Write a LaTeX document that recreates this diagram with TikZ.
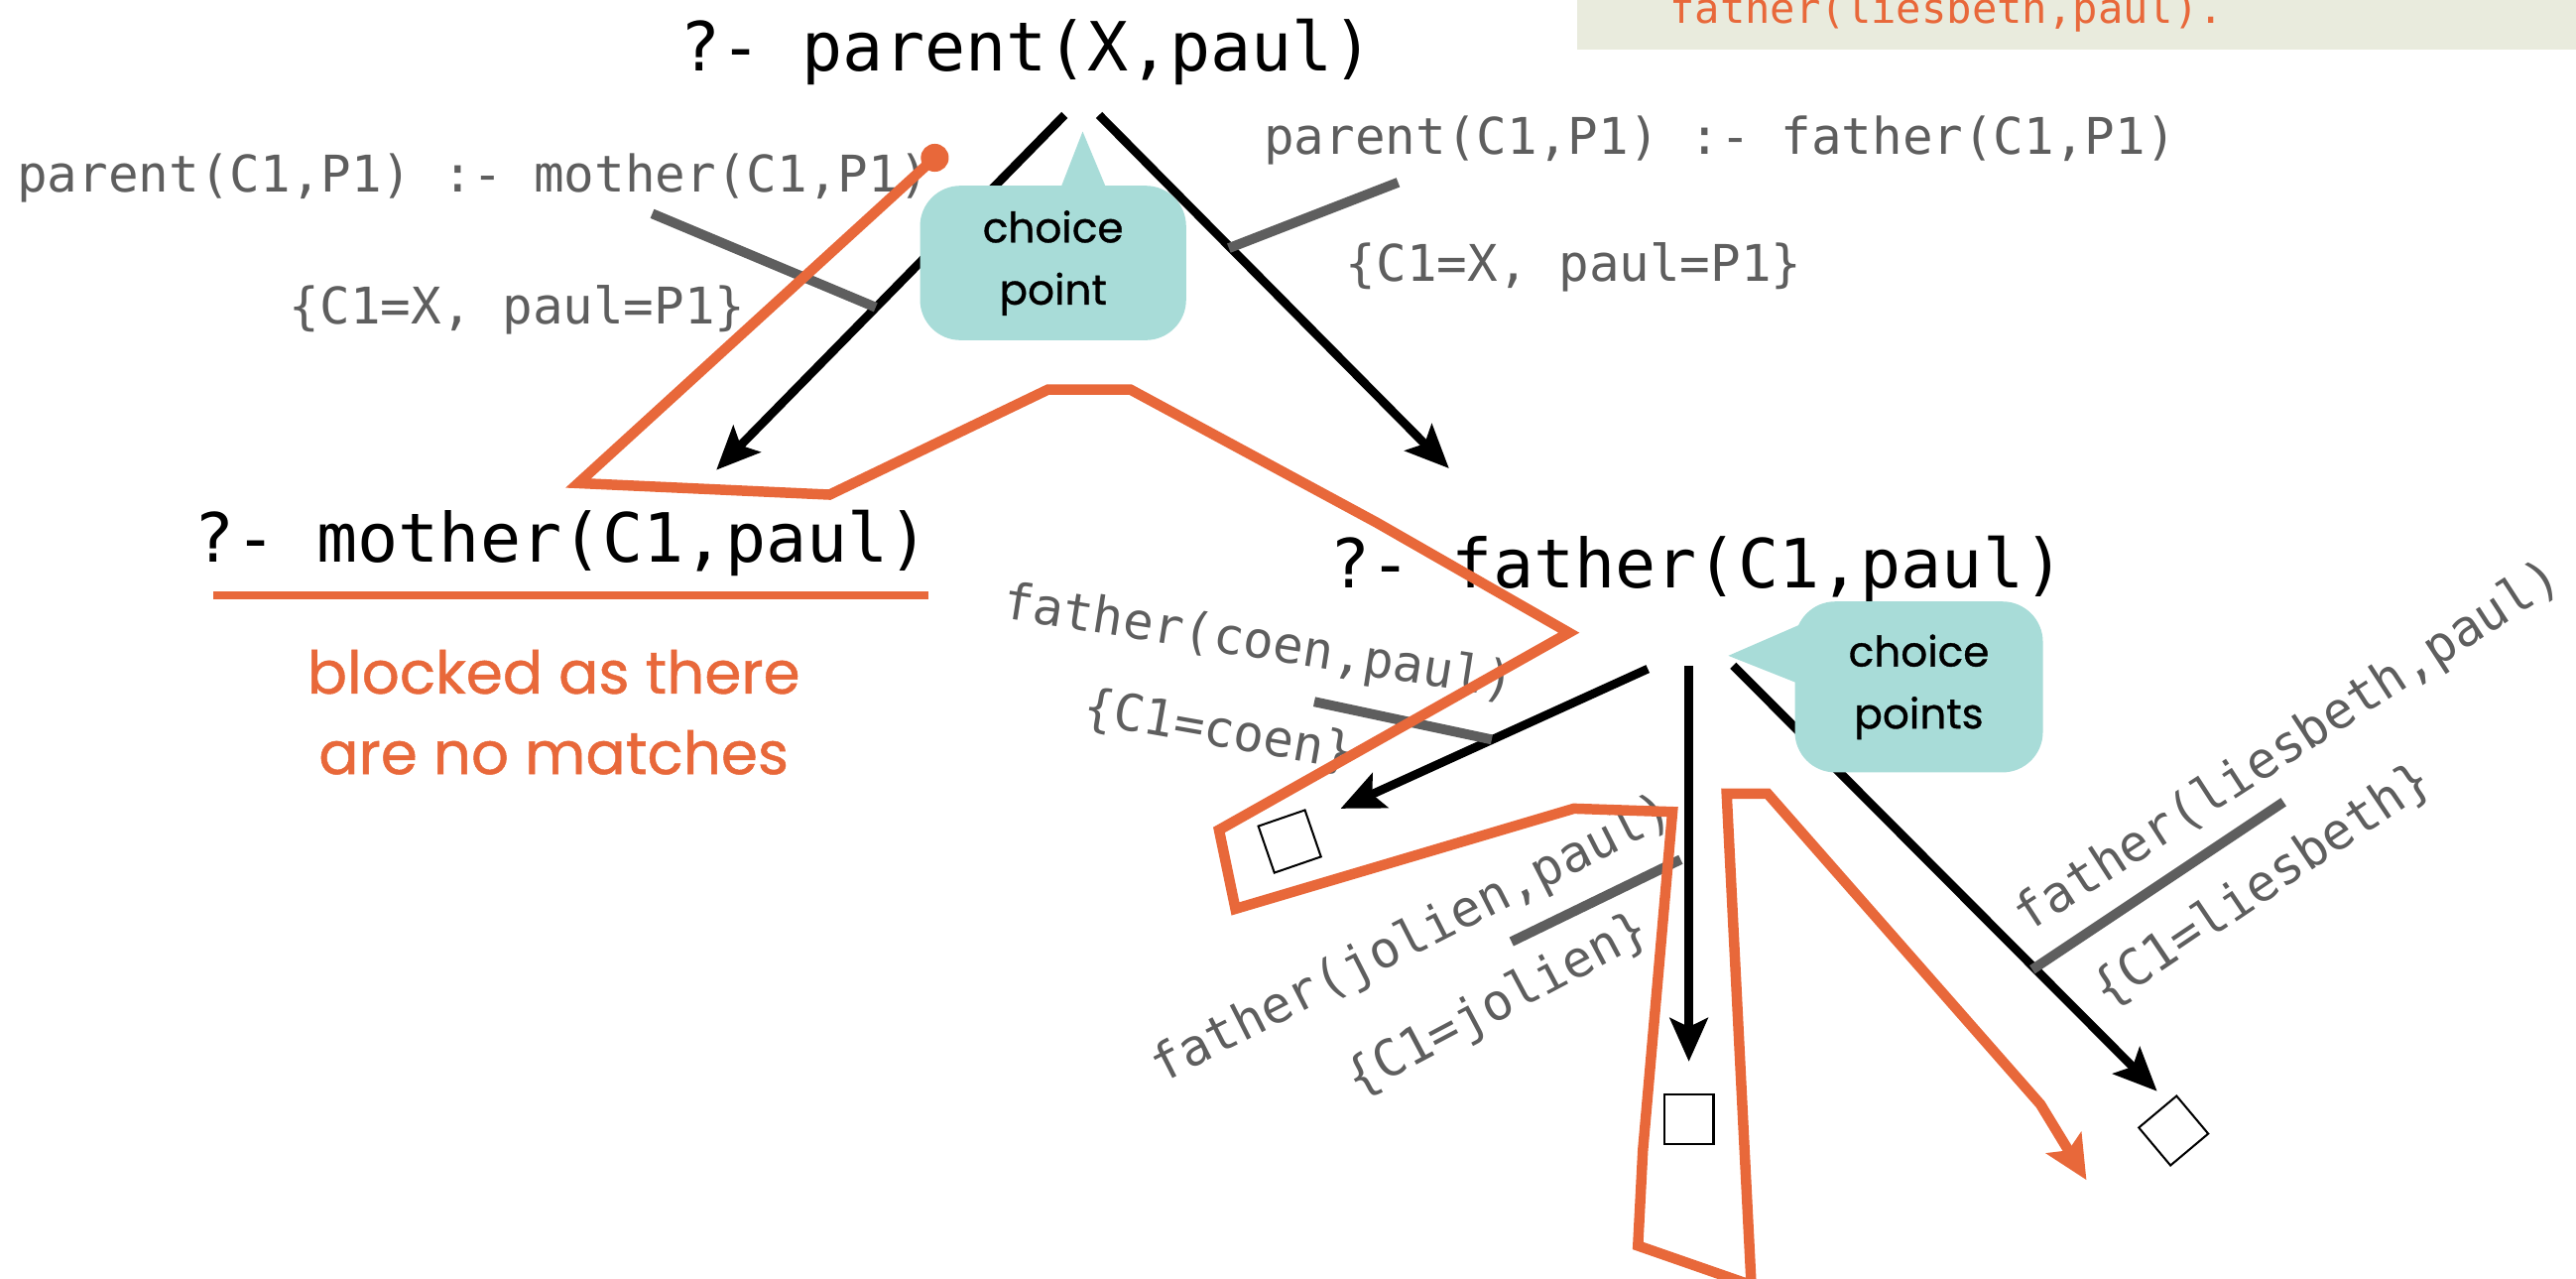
\documentclass[tikz,border=0pt]{standalone}
\usepackage{fontspec}
\setmainfont{Poppins}
\setmonofont{DejaVu Sans Mono}
\newfontfamily\notefont[FakeBold=0.8]{Poppins}
\usetikzlibrary{arrows.meta}
\definecolor{orng}{HTML}{E8683A}
\definecolor{bubcol}{HTML}{A8DCD8}
\definecolor{lblgray}{HTML}{5E5E5E}
\definecolor{boxbeige}{HTML}{E9EBDD}
\begin{document}
\begin{tikzpicture}[x=0.02cm,y=-0.02cm,
  goal/.style={font=\fontsize{23.5}{28}\selectfont\ttfamily, anchor=base, inner sep=0pt},
  lbl/.style={font=\fontsize{17.5}{21}\selectfont\ttfamily, text=lblgray, anchor=base, inner sep=0pt},
  rlbl/.style={font=\fontsize{17.5}{21}\selectfont\ttfamily, text=lblgray, inner sep=0pt},
  bubble/.style={fill=bubcol, rounded corners=14pt, align=center, inner sep=0pt,
                 font=\fontsize{14.5}{21.5}\selectfont\notefont},
  tick/.style={draw=lblgray, line width=3.4pt},
  branch/.style={draw=black, line width=3pt, -{Stealth[length=15pt,width=13pt,inset=3pt]}},
  leaf/.style={draw=black, line width=0.7pt, minimum size=0.6cm, inner sep=0pt},
  trace/.style={draw=orng, line width=3.6pt},
  note/.style={text=orng, font=\fontsize{20.5}{27}\selectfont\notefont, anchor=base, inner sep=0pt}]
\useasboundingbox (0,0) rectangle (1568,778);

% program listing box (top right, cut off)
\fill[boxbeige] (960,-10) rectangle (1580,30);
\node[anchor=base, inner sep=0pt, text=orng, font=\fontsize{14.5}{16}\selectfont\ttfamily] (prog) at (1185,14) {father(liesbeth,paul).};

% goals
\node[goal] (g0) at (625,43) {?- parent(X,paul)};
\node[goal] (g1) at (342,342) {?- mother(C1,paul)};
\node[goal] (g2) at (1033,358) {?- father(C1,paul)};

% connector end points
\coordinate (pL) at (648,70);
\coordinate (pR) at (669,70);
\coordinate (mTip) at (436,286);
\coordinate (fTip) at (882,285);
\coordinate (fa) at (1003,407);
\coordinate (fb) at (1028,405);
\coordinate (fc) at (1055,405);
\coordinate (cTip) at (816,492);
\coordinate (jTip) at (1028,646);
\coordinate (lTip) at (1313,664);

% branches
\draw[branch] (pL) -- (mTip);
\draw[branch] (pR) -- (fTip);
\draw[branch] (fa) -- (cTip);
\draw[branch] (fb) -- (jTip);
\draw[branch] (fc) -- (lTip);

% clause labels
\node[lbl] (lm) at (288,117) {parent(C1,P1) :- mother(C1,P1)};
\node[lbl] (sm) at (315,197) {\{C1=X, paul=P1\}};
\node[lbl] (lf) at (1047,94) {parent(C1,P1) :- father(C1,P1)};
\node[lbl] (sf) at (958,171) {\{C1=X, paul=P1\}};
\coordinate (tm1) at (397,130); \coordinate (tm2) at (533,187);
\coordinate (tf1) at (851,111); \coordinate (tf2) at (748,151);
\draw[tick] (tm1) -- (tm2);
\draw[tick] (tf1) -- (tf2);

\node[rlbl, rotate=-9] (lc) at (766,392) {father(coen,paul)};
\node[rlbl, rotate=-10] (sc) at (742,445) {\{C1=coen\}};
\node[rlbl, rotate=27] (lj) at (860,572) {father(jolien,paul)};
\node[rlbl, rotate=28] (sj) at (912,612) {\{C1=jolien\}};
\node[rlbl, rotate=33] (ll) at (1393,455) {father(liesbeth,paul)};
\node[rlbl, rotate=34] (sl) at (1377,539) {\{C1=liesbeth\}};
\coordinate (tc1) at (800,427); \coordinate (tc2) at (908,450);
\coordinate (tj1) at (920,573); \coordinate (tj2) at (1023,523);
\coordinate (tl1) at (1237,590); \coordinate (tl2) at (1390,488);
\draw[tick] (tc1) -- (tc2);
\draw[tick] (tj1) -- (tj2);
\draw[tick] (tl1) -- (tl2);

% leaves
\node[leaf, rotate=19] (bc) at (785,512) {};
\node[leaf] (bj) at (1028,681) {};
\node[leaf, rotate=40] (bl) at (1323,688) {};

% blocked note
\draw[orng, line width=2.8pt] (130,362) -- (565,362);
\node[note] (n1) at (337,422) {blocked as there};
\node[note] (n2) at (337,471) {are no matches};

% choice point bubbles
\fill[bubcol] (659,80) -- (645,116) -- (674,116) -- cycle;
\node[bubble, minimum width=3.24cm, minimum height=1.88cm] (cp1) at (641,160) {choice\\point};
\fill[bubcol] (1052,399) -- (1105,376) -- (1105,420) -- cycle;
\node[bubble, minimum width=3.02cm, minimum height=2.08cm] (cp2) at (1168,418) {choice\\points};

% search trace
\node[circle, fill=orng, minimum size=0.34cm, inner sep=0pt] (dot) at (569,96) {};
\draw[trace, -{Stealth[length=15pt,width=14pt,inset=3pt]}] (dot.center) -- (352,294) -- (505,301) -- (638,237) -- (688,237)
  -- (838,318) -- (955,385) -- (742,505) -- (752,553) -- (958,492) -- (1018,494)
  -- (1000,700) -- (997,758) -- (1066,782) -- (1051,483) -- (1076,483)
  -- (1242,672) -- (1270,718);
\end{tikzpicture}
\end{document}
